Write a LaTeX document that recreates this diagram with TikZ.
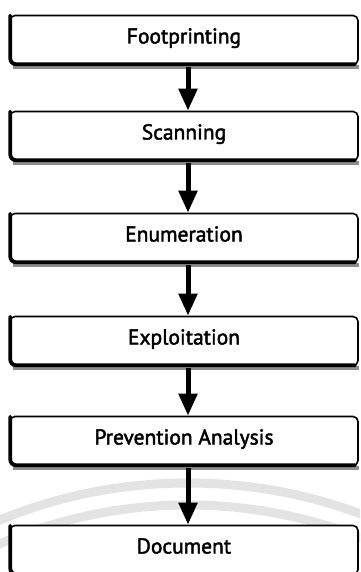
\documentclass[tikz,border=0pt]{standalone}
\usepackage{fontspec}
\setmainfont[BoldFont=PT Sans, BoldFeatures={FakeBold=2}]{PT Sans}
\usetikzlibrary{arrows.meta}
\begin{document}
\begin{tikzpicture}[x=1pt,y=-1pt,
  stagebox/.style={draw=black, line width=1.6pt, fill=white, rounded corners=5pt,
    minimum width=348pt, minimum height=49pt, inner sep=0pt,
    text height=15pt, text depth=8pt,
    font=\fontsize{21.5}{24}\selectfont\bfseries},
  edgeline/.style={line width=3.8pt, rounded corners=6pt, line cap=round},
  shade/.style={fill=black!45},
  flow/.style={line width=5pt, -{Triangle[width=18pt,length=22pt]}},
  wmark/.style={draw=black!11, line width=9pt}
]
\useasboundingbox (0,0) rectangle (360,572);
\clip (0,0) rectangle (360,572);
\fill[white] (0,0) rectangle (360,572);

% faint watermark arcs behind the lower boxes
\draw[wmark] (188,979) circle[radius=496];
\draw[wmark] (188,979) circle[radius=474];

% stages
\node[stagebox] (fp) at (184,40)  {Footprinting};
\node[stagebox] (sc) at (184,136) {Scanning};
\node[stagebox] (en) at (184,238) {Enumeration};
\node[stagebox] (ex) at (184,341) {Exploitation};
\node[stagebox] (pa) at (184,441) {Prevention Analysis};
\node[stagebox] (dc) at (184,550) {Document};

% heavy left and bottom edges plus the grey band under each box
\foreach \n in {fp,sc,en,ex,pa,dc}{
  \fill[shade] ([xshift=4pt]\n.south west) rectangle ([yshift=-4pt]\n.south east);
  \draw[edgeline] ([xshift=1pt,yshift=-1pt]\n.north west) |- ([xshift=-4pt,yshift=1pt]\n.south east);
}

% connectors
\draw[flow] ([xshift=4pt,yshift=-2pt]fp.south) -- ([xshift=4pt]sc.north);
\draw[flow] ([xshift=4pt,yshift=-2pt]sc.south) -- ([xshift=4pt]en.north);
\draw[flow] ([xshift=4pt,yshift=-2pt]en.south) -- ([xshift=4pt]ex.north);
\draw[flow] ([xshift=4pt,yshift=-2pt]ex.south) -- ([xshift=4pt]pa.north);
\draw[flow] ([xshift=4pt,yshift=-2pt]pa.south) -- ([xshift=4pt]dc.north);
\end{tikzpicture}
\end{document}
